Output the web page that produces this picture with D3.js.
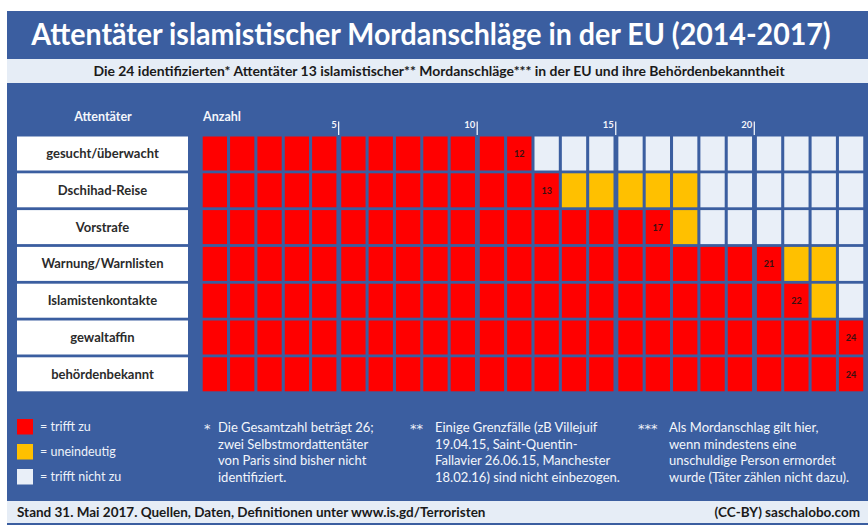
<!DOCTYPE html>
<html>
<head>
<meta charset="utf-8">
<script src="https://cdn.jsdelivr.net/npm/d3@7"></script>
<style>
  body { margin: 0; background: #fff; }
  svg { display: block; font-family: Lato, "Open Sans", sans-serif; }
</style>
</head>
<body>
<div id="chart"></div>
<script>
// categories (rows) and counts per row
var categories = ["gesucht/überwacht", "Dschihad-Reise", "Vorstrafe", "Warnung/Warnlisten",
                  "Islamistenkontakte", "gewaltaffin", "behördenbekannt"];
var redCounts = [12, 13, 17, 21, 22, 24, 24];     // trifft zu
var yellowCounts = [0, 5, 1, 2, 1, 0, 0];         // uneindeutig
var total = 24;
var tickValues = [5, 10, 15, 20];

var legendLabels = ["= trifft zu", "= uneindeutig", "= trifft nicht zu"];
var note1 = ["Die Gesamtzahl beträgt 26;", "zwei Selbstmordattentäter", "von Paris sind bisher nicht", "identifiziert."];
var note2 = ["Einige Grenzfälle (zB Villejuif", "19.04.15, Saint-Quentin-", "Fallavier 26.06.15, Manchester", "18.02.16) sind nicht einbezogen."];
var note3 = ["Als Mordanschlag gilt hier,", "wenn mindestens eine", "unschuldige Person ermordet", "wurde (Täter zählen nicht dazu)."];

var W = 868, H = 525;
var blue = "#3b5ea0", lightBand = "#e6edf6";
var color = d3.scaleOrdinal()
    .domain(["yes", "unclear", "no"])
    .range(["#ff0000", "#ffc000", "#e9eff8"]);

var svg = d3.select("#chart").append("svg")
    .attr("width", W)
    .attr("height", H);

// background panels
svg.append("rect").attr("x", 7).attr("y", 11).attr("width", W - 7).attr("height", H - 11).attr("fill", blue);
svg.append("rect").attr("x", 7).attr("y", 59).attr("width", W - 7).attr("height", 24).attr("fill", lightBand);
svg.append("rect").attr("x", 7).attr("y", 501).attr("width", W - 7).attr("height", 22).attr("fill", lightBand);

// title (squeezed horizontally like the condensed original face)
var title = svg.append("text")
    .attr("text-anchor", "middle")
    .style("font-size", "31px").style("font-weight", "bold").style("fill", "#fff")
    .text("Attentäter islamistischer Mordanschläge in der EU (2014-2017)");
var tw = title.node().getComputedTextLength();
title.attr("transform", "translate(431,45) scale(" + (800 / tw) + ",1)");

var sub = svg.append("text")
    .attr("text-anchor", "middle")
    .style("font-size", "13px").style("font-weight", "bold").style("fill", "#1a1a1a")
    .text("Die 24 identifizierten* Attentäter 13 islamistischer** Mordanschläge*** in der EU und ihre Behördenbekanntheit");
var sw = sub.node().getComputedTextLength();
sub.attr("transform", "translate(439,76) scale(" + (692 / sw) + ",1)");

// scales
var y = d3.scaleBand()
    .domain(categories)
    .range([136.5, 136.5 + 7 * 36.8 - 2.8])
    .paddingInner(0.076)
    .paddingOuter(0);

var colStep = 27.35, groupGap = 1.8, cellW = 24.3;
var xi = d3.scaleLinear().domain([0, total]).range([202.7, 202.7 + total * colStep]);
function xPos(i) { return xi(i) + Math.floor(i / 5) * groupGap; }

// headers
svg.append("text").attr("x", 103).attr("y", 121).attr("text-anchor", "middle")
    .style("font-size", "12.5px").style("font-weight", "bold").style("fill", "#f4f6fb")
    .text("Attentäter");
svg.append("text").attr("x", 203).attr("y", 121)
    .style("font-size", "12.5px").style("font-weight", "bold").style("fill", "#f4f6fb")
    .text("Anzahl");

// ticks
var ticks = svg.append("g").selectAll("g").data(tickValues).join("g")
    .attr("transform", function (d) { return "translate(" + (xPos(d) - 2.6) + ",0)"; });
ticks.append("line").attr("x1", 0).attr("x2", 0).attr("y1", 121.5).attr("y2", 135)
    .style("stroke", "#eef2f9").style("stroke-width", 1.3);
ticks.append("text").attr("x", -2).attr("y", 128).attr("text-anchor", "end")
    .style("font-size", "9.5px").style("font-weight", "bold").style("fill", "#f4f6fb")
    .text(function (d) { return d; });

// row label boxes
var rows = svg.append("g").selectAll("g").data(categories).join("g");
rows.append("rect")
    .attr("x", 17).attr("width", 171)
    .attr("y", function (d) { return y(d); })
    .attr("height", y.bandwidth())
    .attr("fill", "#fff");
rows.append("text")
    .attr("x", 102.5)
    .attr("y", function (d) { return y(d) + y.bandwidth() / 2 + 4.5; })
    .attr("text-anchor", "middle")
    .style("font-size", "13px").style("font-weight", "bold").style("fill", "#2b2b2b")
    .text(function (d) { return d; });

// cells
var cells = [];
categories.forEach(function (c, r) {
    for (var i = 0; i < total; i++) {
        var status = i < redCounts[r] ? "yes" : (i < redCounts[r] + yellowCounts[r] ? "unclear" : "no");
        cells.push({ cat: c, i: i, status: status, last: i === redCounts[r] - 1 });
    }
});

svg.append("g").selectAll("rect").data(cells).join("rect")
    .attr("x", function (d) { return xPos(d.i); })
    .attr("y", function (d) { return y(d.cat); })
    .attr("width", cellW)
    .attr("height", y.bandwidth())
    .attr("fill", function (d) { return color(d.status); });

svg.append("g").selectAll("text").data(cells.filter(function (d) { return d.last; })).join("text")
    .attr("x", function (d) { return xPos(d.i) + cellW / 2; })
    .attr("y", function (d) { return y(d.cat) + y.bandwidth() / 2 + 3.5; })
    .attr("text-anchor", "middle")
    .style("font-size", "9px").style("font-weight", "bold").style("fill", "#3a1010")
    .text(function (d) { return d.i + 1; });

// legend
var legend = svg.append("g").selectAll("g").data(legendLabels).join("g")
    .attr("transform", function (d, i) { return "translate(17," + (419 + i * 25) + ")"; });
legend.append("rect").attr("width", 16).attr("height", 15.5)
    .attr("fill", function (d, i) { return color.range()[i]; });
legend.append("text").attr("x", 23).attr("y", 12)
    .style("font-size", "12.5px").style("fill", "#eef2f9")
    .text(function (d) { return d; });

// footnotes
function footnote(mark, markX, textX, lines) {
    svg.append("text").attr("x", markX).attr("y", 433)
        .style("font-family", "'DejaVu Sans', sans-serif")
        .style("font-size", "13px").style("fill", "#eef2f9").text(mark);
    svg.append("g").selectAll("text").data(lines).join("text")
        .attr("x", textX)
        .attr("y", function (d, i) { return 432 + i * 16.5; })
        .style("font-size", "13px").style("fill", "#f4f6fb")
        .text(function (d) { return d; });
}
footnote("*", 204, 218, note1);
footnote("**", 410, 435, note2);
footnote("***", 638, 669, note3);

// footer
svg.append("text").attr("x", 17).attr("y", 517)
    .style("font-size", "13.5px").style("font-weight", "bold").style("fill", "#1a1a1a")
    .text("Stand 31. Mai 2017. Quellen, Daten, Definitionen unter www.is.gd/Terroristen");
svg.append("text").attr("x", 860).attr("y", 517).attr("text-anchor", "end")
    .style("font-size", "13.5px").style("font-weight", "bold").style("fill", "#1a1a1a")
    .text("(CC-BY) saschalobo.com");
</script>
</body>
</html>
